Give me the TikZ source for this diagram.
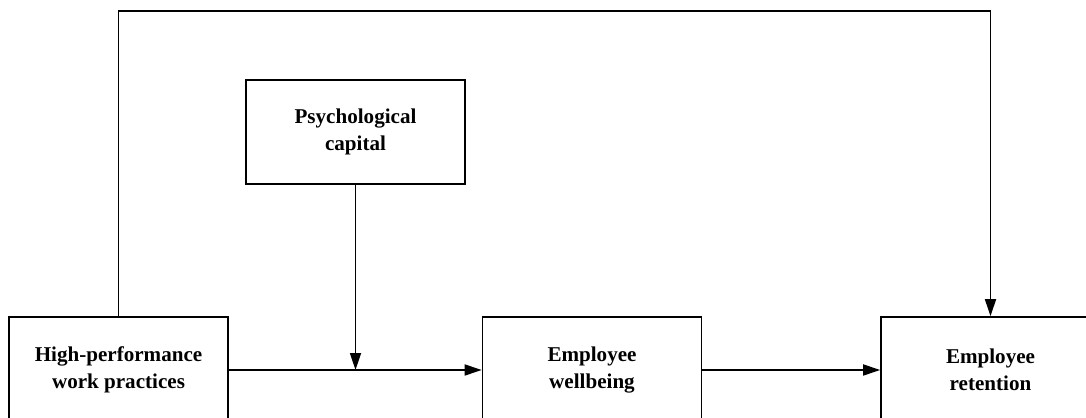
\documentclass[tikz,border=0pt]{standalone}
\usepackage{fontspec}
\setmainfont{Liberation Serif}
\usetikzlibrary{arrows.meta}

\begin{document}
\begin{tikzpicture}[x=0.02cm,y=-0.02cm,line width=1pt,
  box/.style={draw,align=center,font=\bfseries\fontsize{12}{15.5}\selectfont,
    minimum width=4.38cm,minimum height=2.12cm},
  arr/.style={-{Triangle[length=0.34cm,width=0.22cm]}}]
\clip (0,0) rectangle (1086,418);
\node[box] (hpwp) at (118.5,370) {High-performance\\work practices};
\node[box] (ewb) at (592,370) {Employee\\wellbeing};
\node[box] (ret) at (990.5,370) {Employee\\retention};
\node[box,minimum height=2.08cm] (psy) at (355.5,132) {Psychological\\capital};
\coordinate (tl) at (118.5,11);
\coordinate (tr) at (990.5,11);
\draw[arr] (hpwp) -- (ewb);
\draw[arr] (ewb) -- (ret);
\draw[arr] (psy.south) -- (psy.south |- hpwp.east);
\draw[arr] (hpwp.north) -- (tl) -- (tr) -- (ret.north); % direct path
\end{tikzpicture}
\end{document}
